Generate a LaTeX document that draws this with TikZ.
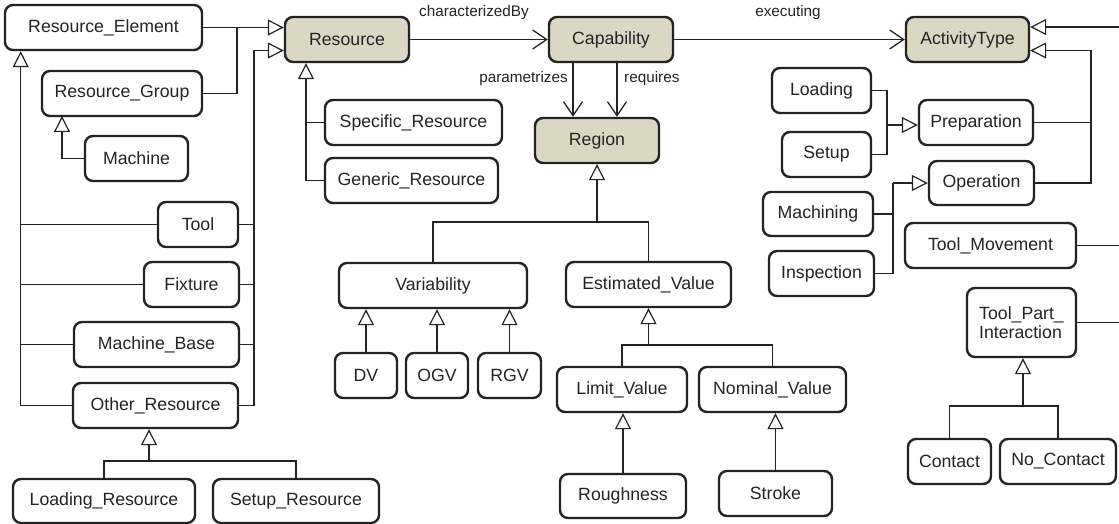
\documentclass[tikz,border=0pt]{standalone}
\usepackage{fontspec}
\setmainfont{Liberation Sans}
\usetikzlibrary{arrows.meta,calc}
\definecolor{keyfill}{RGB}{220,215,196}
\definecolor{ink}{RGB}{35,35,35}
\tikzset{
  box/.style={draw=ink, line width=2.4pt, rounded corners=8pt, fill=white, inner sep=0pt,
    text=ink, font=\fontsize{17.7}{19.5}\selectfont, minimum height=45pt},
  keybox/.style={box, fill=keyfill},
  conn/.style={line width=1.3pt, draw=ink},
  gen/.style={conn, -{Triangle[open, length=16pt, width=16pt, line width=1.2pt]}},
  assoc/.style={conn, -{Straight Barb[length=14pt, width=19pt, line width=1.3pt]}},
  lbl/.style={inner sep=0pt, text=ink, font=\fontsize{15.3}{17}\selectfont},
}
\begin{document}
\begin{tikzpicture}[x=1pt, y=-1pt]
\useasboundingbox (0,0) rectangle (1119,524);
% Resource side
\node[box, minimum width=197pt] (RE) at (103.5,27.5) {Resource\_Element};
\node[box, minimum width=160pt] (RG) at (122,93.5) {Resource\_Group};
\node[box, minimum width=103pt] (Mach) at (136.5,158.5) {Machine};
\node[keybox, minimum width=124pt] (Res) at (347,39.5) {Resource};
\node[box, minimum width=80pt] (Tool) at (198,224.5) {Tool};
\node[box, minimum width=95pt] (Fix) at (191.5,284.5) {Fixture};
\node[box, minimum width=165pt] (MB) at (156.5,344.5) {Machine\_Base};
\node[box, minimum width=165pt] (Oth) at (155.5,405.5) {Other\_Resource};
\node[box, minimum width=182pt, minimum height=44pt] (LR) at (104,501) {Loading\_Resource};
\node[box, minimum width=166pt, minimum height=44pt] (SR) at (296,501) {Setup\_Resource};
\node[box, minimum width=177pt] (Spec) at (413.5,122.5) {Specific\_Resource};
\node[box, minimum width=173pt] (Gen) at (411.5,180.5) {Generic\_Resource};
% Capability / Region
\node[keybox, minimum width=124pt] (Cap) at (611,39.5) {Capability};
\node[keybox, minimum width=124pt] (Reg) at (597,140.5) {Region};
\node[box, minimum width=188pt] (Var) at (433,285.5) {Variability};
\node[box, minimum width=165pt] (EV) at (648.5,284.5) {Estimated\_Value};
\node[box, minimum width=62pt] (DV) at (366,375.5) {DV};
\node[box, minimum width=62pt] (OGV) at (437,375.5) {OGV};
\node[box, minimum width=63pt] (RGV) at (509.5,375.5) {RGV};
\node[box, minimum width=130pt] (LV) at (622,389.5) {Limit\_Value};
\node[box, minimum width=147pt] (NV) at (772.5,389.5) {Nominal\_Value};
\node[box, minimum width=126pt, minimum height=44pt] (Rough) at (623,496) {Roughness};
\node[box, minimum width=113pt] (Stroke) at (775.5,493.5) {Stroke};
% Activity side
\node[keybox, minimum width=123pt] (Act) at (967.5,39.5) {ActivityType};
\node[box, minimum width=99pt] (Load) at (821.5,90.5) {Loading};
\node[box, minimum width=89pt] (Set) at (826.5,154.5) {Setup};
\node[box, minimum width=114pt] (Prep) at (976,122.5) {Preparation};
\node[box, minimum width=105pt, minimum height=44pt] (Op) at (981.5,183) {Operation};
\node[box, minimum width=110pt, minimum height=44pt] (Mcn) at (818,214) {Machining};
\node[box, minimum width=105pt] (Insp) at (821.5,273.5) {Inspection};
\node[box, minimum width=171pt] (TM) at (990.5,245.5) {Tool\_Movement};
\node[box, minimum width=109pt, minimum height=69pt, align=left] (TPI) at (1021.5,322.5) {Tool\_Part\_\\Interaction};
\node[box, minimum width=83pt] (Con) at (949.5,461.5) {Contact};
\node[box, minimum width=116pt] (NoCon) at (1058,461.5) {No\_Contact};

% labels
\node[lbl] (lchar) at (474,13) {characterizedBy};
\node[lbl] (lexec) at (788,13) {executing};
\node[lbl, anchor=east] (lpar) at (568,79) {parametrizes};
\node[lbl, anchor=west] (lreq) at (624,79) {requires};

% coordinates
\coordinate (j1) at (237,27.5);
\coordinate (rbTop) at (254,50.5);
\coordinate (rbBot) at (254,405.5);
\coordinate (lbBot) at (20.7,405.5);
\coordinate (mArr) at (62,116);
\coordinate (sBot) at (306,180.5);
\coordinate (rj) at (597,222);
\coordinate (ej) at (648.5,345);
\coordinate (oj) at (149,461);
\coordinate (pj) at (887,125);
\coordinate (opj) at (893,183);
\coordinate (abTop) at (1091,50.5);
\coordinate (abBot) at (1091,183);
\coordinate (eTop) at (1119,27);
\coordinate (eTM) at (1119,245.5);
\coordinate (eTPI) at (1119,322.5);
\coordinate (tj) at (1023,406);
\coordinate (cp1) at (573,62);
\coordinate (cp2) at (617,62);

% Resource connectors
\draw[gen] (RE.east) -- (RE.east -| Res.west);
\draw[conn] (RG.east) -| (j1);
\draw[gen] (rbTop) -- (rbTop -| Res.west);
\draw[conn] (rbTop) -- (rbBot);
\draw[conn] (Tool.east) -- (Tool.east -| rbTop);
\draw[conn] (Fix.east) -- (Fix.east -| rbTop);
\draw[conn] (MB.east) -- (MB.east -| rbTop);
\draw[conn] (Oth.east) -- (rbBot);
\draw[gen] (lbBot) -- (lbBot |- RE.south);
\draw[conn] (Tool.west) -- (Tool.west -| lbBot);
\draw[conn] (Fix.west) -- (Fix.west -| lbBot);
\draw[conn] (MB.west) -- (MB.west -| lbBot);
\draw[conn] (Oth.west) -- (lbBot);
\draw[gen] (Mach.west) -| (mArr);
\draw[gen] (Gen.west) -| (sBot |- Res.south);
\draw[conn] (Spec.west) -- (Spec.west -| sBot);
\draw[conn] (LR.north) |- (oj) (SR.north) |- (oj);
\draw[gen] (oj) -- (oj |- Oth.south);

% Capability / Region connectors
\draw[assoc] (Res.east) -- (Cap.west);
\draw[assoc] (Cap.east) -- (Act.west);
\draw[assoc] (cp1) -- (cp1 |- Reg.north);
\draw[assoc] (cp2) -- (cp2 |- Reg.north);
\draw[conn] (Var.north) |- (rj) -| (EV.north);
\draw[gen] (rj) -- (Reg.south);
\draw[gen] (DV.north) -- (DV.north |- Var.south);
\draw[gen] (OGV.north) -- (OGV.north |- Var.south);
\draw[gen] (RGV.north) -- (RGV.north |- Var.south);
\draw[conn] (LV.north) |- (ej) -| (NV.north);
\draw[gen] (ej) -- (EV.south);
\draw[gen] (Rough.north) -- (Rough.north |- LV.south);
\draw[gen] (Stroke.north) -- (Stroke.north |- NV.south);

% Activity connectors
\draw[conn] (Load.east) -| (pj) |- (Set.east);
\draw[gen] (pj) -- (pj -| Prep.west);
\draw[conn] (Mcn.east) -| (opj) |- (Insp.east);
\draw[gen] (opj) -- (Op.west);
\draw[conn] (Prep.east) -- (Prep.east -| abTop);
\draw[conn] (Op.east) -- (abBot) -- (abTop);
\draw[gen] (abTop) -- (abTop -| Act.east);
\draw[gen] (eTop) -- (eTop -| Act.east);
\draw[conn] (TM.east) -- (eTM);
\draw[conn] (TPI.east) -- (eTPI);
\draw[conn] (Con.north) |- (tj) -| (NoCon.north);
\draw[gen] (tj) -- (tj |- TPI.south);
\end{tikzpicture}
\end{document}
